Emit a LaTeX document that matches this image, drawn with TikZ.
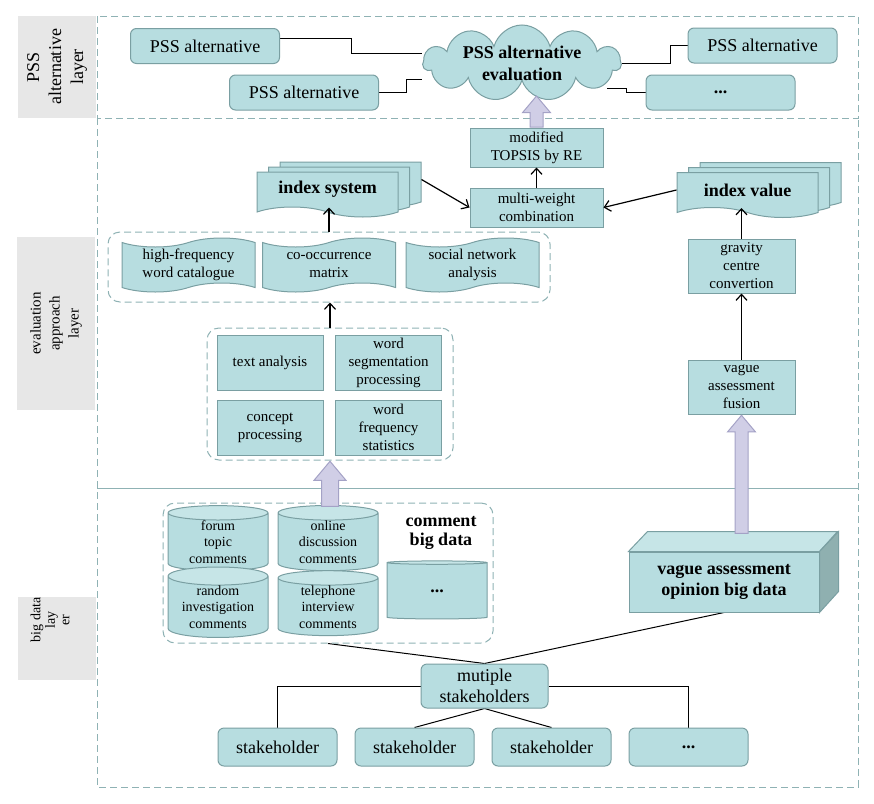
\documentclass[tikz,border=0pt]{standalone}
\usepackage{fontspec}
\setmainfont{Liberation Serif}
\usetikzlibrary{shapes.symbols, shapes.geometric, shapes.arrows, arrows.meta}
\pgfdeclarelayer{bg}
\pgfsetlayers{bg,main}
\definecolor{boxfill}{HTML}{B7DDE0}
\definecolor{boxline}{HTML}{7A9FA2}
\definecolor{topface}{HTML}{C6E5E7}
\definecolor{sideface}{HTML}{8FB0B0}
\definecolor{frameline}{HTML}{8FB2B4}
\definecolor{lblgray}{HTML}{E7E7E7}
\definecolor{arrfill}{HTML}{D0CEE6}
\definecolor{arrline}{HTML}{A4A2C6}
\newcommand\bigtxt{\fontsize{18}{21}\selectfont}
\newcommand\smalltxt{\fontsize{15}{18}\selectfont}
\newcommand\dbtxt{\fontsize{14}{16.5}\selectfont}
\tikzset{
    altbox/.style={draw=boxline, fill=boxfill, line width=1pt, rounded corners=6pt,
    	inner sep=0pt, minimum width=149pt, minimum height=35pt, font=\bigtxt},
    procbox/.style={draw=boxline, fill=boxfill, line width=1pt, inner sep=0pt,
    	align=center, font=\smalltxt},
    tapebox/.style={tape, draw=boxline, fill=boxfill, line width=1pt, inner sep=0pt,
    	tape bend height=9pt, minimum width=133pt, minimum height=54pt,
    	align=center, font=\smalltxt},
    docbox/.style={tape, tape bend top=none, tape bend bottom=out and in,
    	tape bend height=10pt, draw=boxline, fill=boxfill, line width=1pt,
    	inner sep=0pt, minimum width=141pt, minimum height=45pt,
    	font=\bigtxt\bfseries},
    dbbox/.style={cylinder, shape border rotate=90, aspect=0.25, draw=boxline,
    	line width=1pt, cylinder uses custom fill, cylinder body fill=boxfill,
    	cylinder end fill=topface, inner sep=0pt, minimum width=100pt,
    	minimum height=60pt, align=center, font=\dbtxt},
    groupbox/.style={draw=frameline, line width=1pt, dash pattern=on 7pt off 4pt,
    	rounded corners=12pt, inner sep=0pt},
    layerlbl/.style={fill=lblgray, rotate=90, inner sep=0pt, align=center},
    bigarrow/.style={single arrow, shape border rotate=90, draw=arrline,
    	fill=arrfill, line width=1pt, inner sep=6pt, single arrow head extend=7.5pt,
    	single arrow tip angle=80},
    link/.style={line width=1pt},
    flow/.style={line width=1.2pt, -{Straight Barb[length=6pt,width=11pt]}}
}

\begin{document}
\begin{tikzpicture}[x=1pt, y=-1pt]
	\useasboundingbox (0,0) rectangle (874,803);
	\draw[frameline, line width=1pt, dash pattern=on 7pt off 4pt] (97,16) rectangle (858,118);
	\draw[frameline, line width=1pt, dash pattern=on 7pt off 4pt] (97,118) -- (97,787) -- (858,787) -- (858,118);
	\draw[frameline, line width=1pt] (97,488) -- (858,488);

	\node[layerlbl, minimum width=102pt, minimum height=78pt, font=\fontsize{18}{22}\selectfont] (lbl1) at (57,67) {PSS\\alternative\\layer};
	\node[layerlbl, minimum width=173pt, minimum height=78pt, font=\fontsize{15}{19}\selectfont] (lbl2) at (56,323.5) {evaluation\\approach\\layer};
	\node[layerlbl, minimum width=83pt, minimum height=78pt] (lbl3) at (57,638.5) {};
	\node[rotate=90, inner sep=0pt, align=center, font=\fontsize{14}{14.5}\selectfont] (lbl3t) at (50,620) {big data\\lay\\er};

	\node[altbox] (alt1) at (205,46) {PSS alternative};
	\node[altbox] (alt2) at (304,92.5) {PSS alternative};
	\node[altbox] (alt3) at (762.5,45.5) {PSS alternative};
	\node[altbox, font=\bigtxt\bfseries] (altn) at (720.5,92.5) {...};
	\node[cloud, cloud puffs=11, cloud ignores aspect, draw=boxline, fill=boxfill, line width=1pt,
		inner xsep=-6pt, inner ysep=-14pt, minimum width=198pt, minimum height=76pt, align=center,
		font=\fontsize{18}{22}\selectfont\bfseries] (eval) at (522,63) {PSS alternative\\evaluation};

	\node[procbox, minimum width=133pt, minimum height=39pt] (topsis) at (536.5,147.5) {modified\\TOPSIS by RE};
	\node[procbox, minimum width=133pt, minimum height=39pt] (msum) at (536.5,207.5) {multi-weight\\combination};
	\node[bigarrow, minimum height=31pt, anchor=tail] (up1) at (topsis.north) {};

	\node[docbox] (isys3) at (350.5,179.5) {};
	\node[docbox] (isys2) at (339,184.5) {};
	\node[docbox] (isys) at (327.5,189.5) {index system};
	\node[docbox] (ival3) at (770.5,180) {};
	\node[docbox] (ival2) at (759,185) {};
	\node[docbox] (ival) at (747.5,190) {index value};

	\node[groupbox, minimum width=442pt, minimum height=70pt] (grp1) at (329,267) {};
	\node[tapebox] (hfw) at (188.5,265) {high-frequency\\word catalogue};
	\node[tapebox] (com) at (329,265) {co-occurrence\\matrix};
	\node[tapebox] (sna) at (472.5,265) {social network\\analysis};

	\node[groupbox, minimum width=246pt, minimum height=132pt] (grp2) at (330,394) {};
	\node[procbox, minimum width=106pt, minimum height=55pt] (txt) at (270,362.5) {text analysis};
	\node[procbox, minimum width=106pt, minimum height=55pt] (seg) at (388.5,362.5) {word\\segmentation\\processing};
	\node[procbox, minimum width=106pt, minimum height=55pt] (cpt) at (270,427.5) {concept\\processing};
	\node[procbox, minimum width=106pt, minimum height=55pt] (wfs) at (388.5,427.5) {word\\frequency\\statistics};

	\node[procbox, minimum width=107pt, minimum height=54pt] (grav) at (741.5,266) {gravity\\centre\\convertion};
	\node[procbox, minimum width=107pt, minimum height=54pt] (fusion) at (741.5,387) {vague\\assessment\\fusion};

	\node[groupbox, minimum width=330pt, minimum height=140pt] (cgrp) at (328,573) {};
	\node[dbbox] (forum) at (218,542) {forum\\topic\\comments};
	\node[dbbox] (online) at (328,542) {online\\discussion\\comments};
	\node[dbbox] (random) at (218,607) {random\\investigation\\comments};
	\node[dbbox] (phone) at (328,607) {telephone\\interview\\comments};
	\node[dbbox, minimum height=58pt, font=\bigtxt\bfseries] (cdots) at (437,591) {...};
	\node[align=center, font=\fontsize{18}{19}\selectfont\bfseries] (cbd) at (441,533) {comment\\big data};
	\node[bigarrow, minimum height=45pt, anchor=tip, inner sep=8pt] (up2) at (grp2.south) {};

	\node[procbox, minimum width=190pt, minimum height=60pt, font=\bigtxt\bfseries] (vbox) at (724,582) {vague assessment\\opinion big data};
	\fill[topface, draw=boxline, line width=1pt] (vbox.north west) -- ++(19,-20) -- ++(190,0) -- (vbox.north east) -- cycle;
	\fill[sideface, draw=boxline, line width=1pt] (vbox.north east) -- ++(19,-20) -- ++(0,60) -- (vbox.south east) -- cycle;
	\node[bigarrow, minimum height=118pt, anchor=tip] (up3) at (fusion.south) {};

	\node[altbox, minimum width=127pt, minimum height=44pt, align=center] (multi) at (484.5,686) {mutiple\\stakeholders};
	\node[altbox, minimum width=119pt, minimum height=38pt] (sh1) at (277.5,747) {stakeholder};
	\node[altbox, minimum width=119pt, minimum height=38pt] (sh2) at (414.5,747) {stakeholder};
	\node[altbox, minimum width=119pt, minimum height=38pt] (sh3) at (551.5,747) {stakeholder};
	\node[altbox, minimum width=119pt, minimum height=38pt, font=\bigtxt\bfseries] (sh4) at (688.5,747) {...};

	\begin{pgfonlayer}{bg}
	\draw[link] ([yshift=8pt]alt1.east) -- ++(71,0) |- ([yshift=10pt]eval.west);
	\draw[link] (alt2.east) -- ++(27,0) |- ([yshift=-16pt]eval.west);
	\draw[link] (alt3.west) -- ++(-17,0) |- (eval.east);
	\draw[link] (altn.west) -- ++(-19,0) |- ([xshift=-15pt,yshift=-25pt]eval.east);
	\draw[link] (cgrp.south) -- (multi.north);
	\draw[link] (vbox.south) -- (multi.north);
	\draw[link] (multi.west) -| (sh1.north);
	\draw[link] (multi.east) -| (sh4.north);
	\draw[link] (multi.south) -- (sh2.north);
	\draw[link] (multi.south) -- (sh3.north);
	\end{pgfonlayer}

	\draw[flow] (msum.north) -- (topsis.south);
	\draw[flow] (isys3.east) -- (msum.west);
	\draw[flow] (ival.west) -- (msum.east);
	\draw[flow] (grp1.north) -- (grp1.north |- isys.south);
	\draw[flow] (grp2.north) -- (grp2.north |- grp1.south);
	\draw[flow] (fusion.north) -- (grav.south);
	\draw[flow] (grav.north) -- (grav.north |- ival.south);
\end{tikzpicture}
\end{document}
